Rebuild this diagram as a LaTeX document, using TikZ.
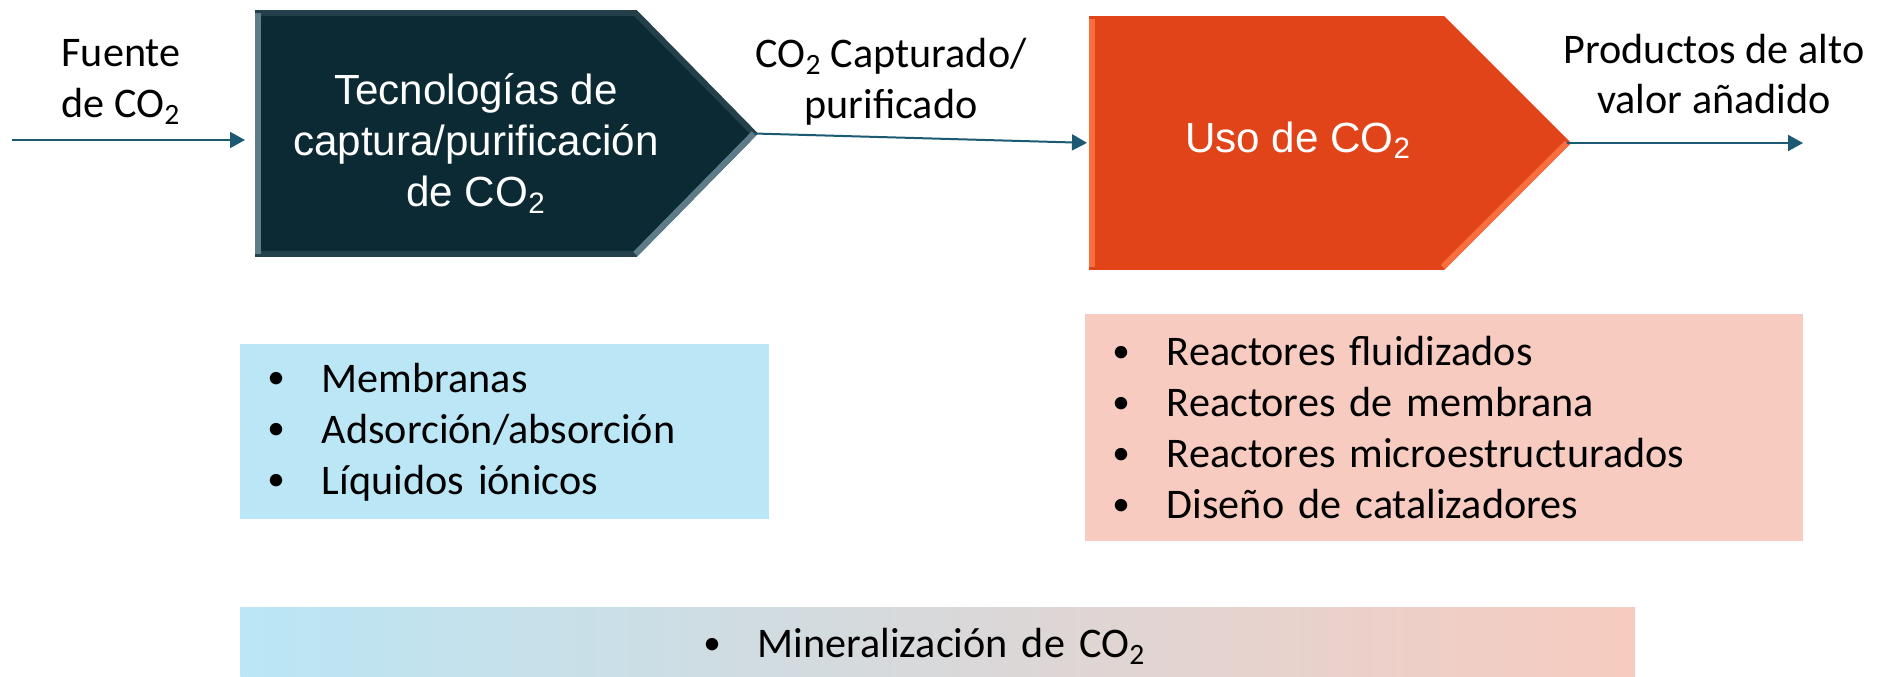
\documentclass[tikz,border=0pt]{standalone}
\usepackage{fontspec}
\setmainfont{Carlito}
\newfontfamily\arialf{Liberation Sans}
\usetikzlibrary{shapes.symbols,arrows.meta,calc}
\newcommand{\cotwo}{CO\textsubscript{2}}
\newcommand{\bul}{\makebox[31pt][l]{\raisebox{2pt}{\fontsize{20}{20}\selectfont\textbullet}}}
\definecolor{capfill}{HTML}{0B2A34}
\definecolor{caprim}{HTML}{23404B}
\definecolor{caphi}{HTML}{5E7C87}
\definecolor{usofill}{HTML}{E2441A}
\definecolor{usohi}{HTML}{F96E3E}
\definecolor{listblue}{HTML}{BAE6F5}
\definecolor{listpink}{HTML}{F7CBBF}
\definecolor{arrowc}{HTML}{1B5A72}

\begin{document}
\begin{tikzpicture}[x=0.02cm,y=-0.02cm,
   flow/.style={draw=arrowc,line width=0.04cm,-{Triangle[length=0.3cm,width=0.32cm]}},
   lbl/.style={font=\fontsize{24}{29}\selectfont,align=center,inner sep=0},
   chev/.style={signal,signal to=east,inner sep=0,outer sep=0,line width=0.12cm,anchor=west},
   lst/.style={font=\fontsize{24}{29}\selectfont,align=left,anchor=north west,inner ysep=0,inner xsep=0.54cm}]
   \useasboundingbox (0,0) rectangle (1885,676);
   \node[chev,signal pointer angle=91,minimum width=9.92cm,minimum height=4.82cm,fill=capfill,draw=caprim] (capt) at (258,133.5) {};
   \draw[line width=0.12cm,caphi] ($(capt.west)+(0,-120.5)$) -- ($(capt.west)+(0,120.5)$);
   \draw[line width=0.12cm,caphi] (capt.east) -- ($(capt.east)+(-118.5,120.5)$);
   \node[chev,signal pointer angle=90,minimum width=9.5cm,minimum height=4.96cm,fill=usofill,draw=usofill] (uso) at (1092,143) {};
   \draw[line width=0.12cm,usohi] ($(uso.west)+(0,-124)$) -- ($(uso.west)+(0,124)$);
   \draw[line width=0.12cm,usohi] (uso.east) -- ($(uso.east)+(-124,124)$);

   \node[lbl,font=\arialf\fontsize{24}{29}\selectfont,text=white] (captTxt) at (476,143.5) {Tecnologías de\\captura/purificación\\de \cotwo};
   \node[lbl,font=\arialf\fontsize{24}{29}\selectfont,text=white,anchor=base] (usoTxt) at (1298,152) {Uso de \cotwo};
   \node[lbl] (fuente) at (121,82) {Fuente\\de \cotwo};
   \node[lbl] (capturado) at (891,82) {\cotwo{} Capturado/\\purificado};
   \node[lbl] (productos) at (1714,74) {Productos de alto\\valor añadido};

   \coordinate (fuenteIn) at (12,140);
   \coordinate (prodOut) at (1803,143);
   \draw[flow,shorten >=0.26cm] (fuenteIn) -- (fuenteIn -| capt.west);
   \draw[flow,shorten >=0.1cm] (capt.east) -- (uso.west);
   \draw[flow] (uso.east) -- (prodOut);

   \node[lst,fill=listblue,minimum width=10.58cm,minimum height=3.5cm,text width=9.5cm] (captList) at (240,344)
      {\bul Membranas\\\bul Adsorción/absorción\\\bul Líquidos iónicos};
   \node[lst,fill=listpink,minimum width=14.36cm,minimum height=4.54cm,text width=13.28cm] (usoList) at (1085,314)
      {\bul Reactores fluidizados\\\bul Reactores de membrana\\\bul Reactores microestructurados\\\bul Diseño de catalizadores};
   \node[lst,left color=listblue,right color=listpink,minimum width=27.9cm,minimum height=1.56cm,inner xsep=9.26cm,text width=9.38cm] (mineral) at (240,607)
      {\bul Mineralización de \cotwo};
\end{tikzpicture}
\end{document}
